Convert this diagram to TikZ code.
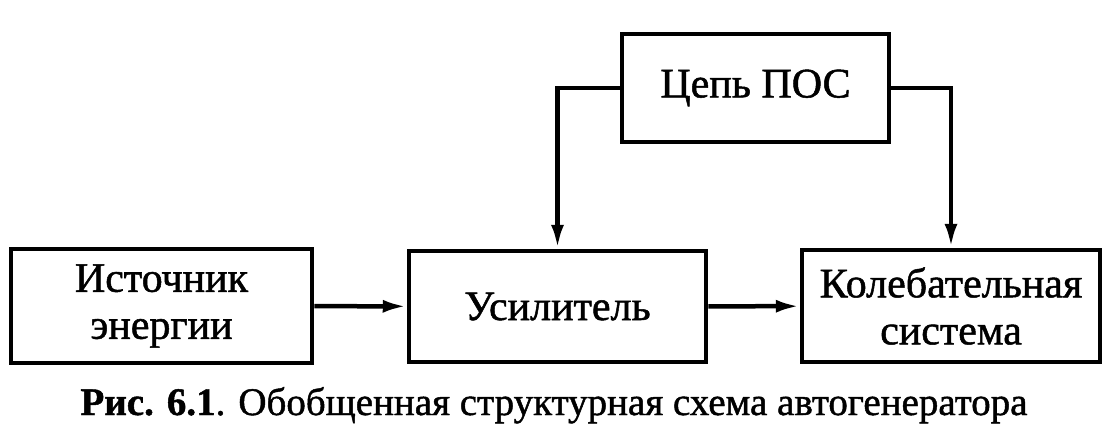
\documentclass[tikz,border=0pt]{standalone}
\usepackage{fontspec}
\setmainfont{Liberation Serif}
\newfontfamily\scanfont{Liberation Serif}[FakeBold=1.2]
\usetikzlibrary{arrows.meta}
\tikzset{
    block/.style={draw, line width=4.5pt, inner sep=0pt, align=center,
        font=\scanfont\fontsize{42}{47}\selectfont},
    link/.style={line width=4.5pt, -{Latex[length=24pt,width=13pt]}},
}

\begin{document}
\begin{tikzpicture}[x=1pt,y=-1pt]
    \useasboundingbox (0,0) rectangle (1111,441);
    \node[block, minimum width=301pt, minimum height=114pt] (ist) at (161.5,306) {Источник\\энергии};
    \node[block, minimum width=297pt, minimum height=111pt] (usil) at (557.5,306.5) {Усилитель};
    \node[block, minimum width=298pt, minimum height=112pt] (kol) at (951,306) {Колебательная\\система};
    \node[block, minimum width=267pt, minimum height=108pt] (pos) at (755.5,88) {Цепь ПОС};
    % signal path
    \draw[link] (ist) -- (usil);
    \draw[link] (usil) -- (kol);
    % feedback
    \draw[link] (pos.west) -| (usil.north);
    \draw[link] (pos.east) -| (kol.north);
    \node[anchor=base, font=\scanfont\fontsize{39}{44}\selectfont] (cap) at (554,415) {\textbf{Рис. 6.1}. Обобщенная структурная схема автогенератора};
\end{tikzpicture}
\end{document}
